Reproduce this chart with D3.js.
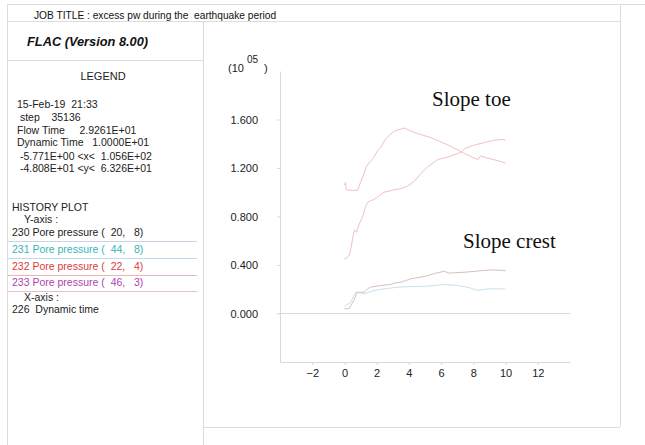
<!DOCTYPE html>
<html>
<head>
<meta charset="utf-8">
<script src="https://cdn.jsdelivr.net/npm/d3@7"></script>
<style>
  html, body { margin: 0; padding: 0; background: #fff; }
  svg { display: block; font-family: "Liberation Sans", Arial, sans-serif; }
</style>
</head>
<body>
<svg id="chart" width="645" height="445"></svg>
<script>
// FLAC history plot: excess pore pressure (x 10^5) against dynamic time

// Slope toe, history 232: rises to a peak near t = 3.7 then dissipates
const toeA_t = [0, 0.06, 0.12, 0.5, 0.83, 0.96, 1.2, 1.36, 1.58, 1.79, 2.04, 2.25, 2.56, 2.87, 3.19, 3.5, 3.71, 4.02, 4.64, 5.38, 6.42, 7.46, 8.08, 8.3, 8.45, 8.92, 9.54, 10];
const toeA_v = [1.06, 1.08, 1.02, 1.015, 1.017, 1.07, 1.15, 1.21, 1.25, 1.28, 1.34, 1.37, 1.44, 1.48, 1.51, 1.52, 1.53, 1.51, 1.48, 1.45, 1.39, 1.32, 1.28, 1.27, 1.30, 1.28, 1.26, 1.24];

// Slope toe, history 233: steady build-up over the whole record
const toeB_t = [0, 0.17, 0.33, 0.42, 0.54, 0.62, 0.75, 0.89, 1.1, 1.31, 1.46, 1.62, 1.83, 2.04, 2.25, 2.46, 2.77, 3.08, 3.5, 3.92, 4.33, 4.75, 5.17, 5.58, 5.79, 6.42, 7.25, 7.46, 8.08, 8.71, 9.33, 9.86, 10];
const toeB_v = [0.45, 0.46, 0.49, 0.55, 0.64, 0.69, 0.67, 0.73, 0.79, 0.88, 0.92, 0.93, 0.94, 0.96, 0.98, 1.0, 1.01, 1.02, 1.03, 1.05, 1.09, 1.155, 1.21, 1.25, 1.27, 1.29, 1.33, 1.36, 1.39, 1.41, 1.43, 1.435, 1.43];

// Slope crest, history 230
const crestA_t = [0, 0.27, 0.58, 0.79, 1.0, 1.23, 1.42, 1.62, 2.25, 2.87, 3.08, 3.5, 4.12, 4.75, 5.17, 5.58, 6.21, 6.5, 7.54, 8.58, 9.21, 9.83, 10];
const crestA_v = [0.04, 0.04, 0.107, 0.175, 0.175, 0.175, 0.203, 0.217, 0.231, 0.239, 0.25, 0.258, 0.286, 0.30, 0.313, 0.33, 0.348, 0.333, 0.341, 0.354, 0.36, 0.355, 0.354];

// Slope crest, history 231
const crestB_t = [0, 0.37, 0.69, 1.0, 1.23, 1.83, 2.46, 3.29, 4.12, 4.75, 5.58, 6.21, 7.04, 7.67, 8.29, 8.92, 9.75, 10];
const crestB_v = [0.06, 0.09, 0.175, 0.17, 0.162, 0.189, 0.203, 0.217, 0.222, 0.223, 0.23, 0.24, 0.23, 0.216, 0.19, 0.203, 0.203, 0.2];

const xTicks = [-2, 0, 2, 4, 6, 8, 10, 12];
const yTicks = [0, 0.4, 0.8, 1.2, 1.6];

const legendInfo = [
  "15-Feb-19  21:33",
  " step    35136",
  "Flow Time     2.9261E+01",
  "Dynamic Time   1.0000E+01",
  " -5.771E+00 <x<  1.056E+02",
  " -4.808E+01 <y<  6.326E+01"
];
const historyLabels = ["230 Pore pressure (  20,   8)", "231 Pore pressure (  44,   8)", "232 Pore pressure (  22,   4)", "233 Pore pressure (  46,   3)"];
const historyText = ["#222", "#3ab5b8", "#d83c3c", "#b03fae"];
const historyRule = ["#c9d3e3", "#b9dcef", "#f0b4b4", "#f0b8d4"];

const svg = d3.select("#chart");
const frame = "#dcdcdc";
const fs = 10.5;

function hline(x1, x2, y, c) {
  svg.append("line").attr("x1", x1).attr("x2", x2).attr("y1", y).attr("y2", y)
    .attr("stroke", c || frame).attr("stroke-width", 1);
}
function vline(x, y1, y2, c) {
  svg.append("line").attr("x1", x).attr("x2", x).attr("y1", y1).attr("y2", y2)
    .attr("stroke", c || frame).attr("stroke-width", 1);
}
function label(x, y, s, color, size) {
  return svg.append("text").attr("x", x).attr("y", y).attr("font-size", size || fs)
    .attr("fill", color || "#222").style("white-space", "pre").text(s);
}

// page frame
hline(7, 645, 4.5);
hline(7, 620, 21.5);
hline(7, 203, 60.5);
vline(7.5, 4, 445);
vline(203.5, 21, 445);
vline(620.5, 4, 427);
hline(203, 620, 427.5);

// header
label(34, 19, "JOB TITLE : excess pw during the  earthquake period", "#111", 10.2);
svg.append("text").attr("x", 27).attr("y", 46).attr("font-size", 12.8)
  .attr("font-weight", "bold").attr("font-style", "italic").attr("fill", "#111")
  .text("FLAC (Version 8.00)");

// legend panel
svg.append("text").attr("x", 103).attr("y", 80).attr("text-anchor", "middle")
  .attr("font-size", 11).attr("fill", "#222").text("LEGEND");

const infoY = [108, 121, 134, 146, 160, 172];
legendInfo.forEach((s, i) => label(17, infoY[i], s));
label(12, 211, "HISTORY PLOT");
label(24, 223, "Y-axis :");
const histY = [236, 253, 270, 286];
historyLabels.forEach((s, i) => {
  label(12, histY[i], s, historyText[i]);
  hline(8, 197, histY[i] + 5.5, historyRule[i]);
});
label(24, 301, "X-axis :");
label(12, 313, "226  Dynamic time");

// plot scales
const x = d3.scaleLinear().domain([-4, 14]).range([280, 570]);
const y = d3.scaleLinear().domain([-0.4, 2.0]).range([362, 71]);

const axisColor = "#d9d9d9";
const gx = svg.append("g").attr("transform", `translate(0,${y(-0.4)})`)
  .call(d3.axisBottom(x).tickValues(xTicks).tickFormat(d3.format("d")).tickSize(3).tickSizeOuter(0));
const gy = svg.append("g").attr("transform", `translate(${x(-4)},0)`)
  .call(d3.axisLeft(y).tickValues(yTicks).tickFormat(d3.format(".3f")).tickSize(3).tickSizeOuter(0));
[gx, gy].forEach(g => {
  g.select(".domain").attr("stroke", axisColor);
  g.selectAll(".tick line").attr("stroke", axisColor);
  g.selectAll(".tick text").attr("fill", "#222").attr("font-size", 11)
    .attr("font-family", "Liberation Sans, Arial, sans-serif");
});
gx.selectAll(".tick text").attr("dy", "0.85em");
gy.selectAll(".tick text").attr("dx", "-16");

// zero reference line
svg.append("line").attr("x1", x(-4) - 2).attr("x2", x(14)).attr("y1", y(0)).attr("y2", y(0))
  .attr("stroke", "#d3dbe4").attr("stroke-width", 1.2);

// exponent label
const expo = svg.append("text").attr("x", 228).attr("y", 72).attr("font-size", 11).attr("fill", "#222");
expo.append("tspan").text("(10");
expo.append("tspan").attr("dy", -9).attr("dx", 3).attr("font-size", 10).text("05");
expo.append("tspan").attr("dy", 9).attr("dx", 6).text(")");

// histories
const line = d3.line().x(d => x(d[0])).y(d => y(d[1]));
const series = [
  { t: crestB_t, v: crestB_v, c: "#c6e2ec" },
  { t: crestA_t, v: crestA_v, c: "#d8bec6" },
  { t: toeB_t, v: toeB_v, c: "#f1c0c4" },
  { t: toeA_t, v: toeA_v, c: "#f1c0c4" }
];
series.forEach(s => {
  svg.append("path").datum(d3.zip(s.t, s.v)).attr("d", line)
    .attr("fill", "none").attr("stroke", s.c).attr("stroke-width", 1);
});

// annotations
svg.append("text").attr("x", 432).attr("y", 106).attr("font-size", 21)
  .attr("font-family", "Liberation Serif, Times New Roman, serif").attr("fill", "#111").text("Slope toe");
svg.append("text").attr("x", 463).attr("y", 248).attr("font-size", 21)
  .attr("font-family", "Liberation Serif, Times New Roman, serif").attr("fill", "#111").text("Slope crest");
</script>
</body>
</html>
